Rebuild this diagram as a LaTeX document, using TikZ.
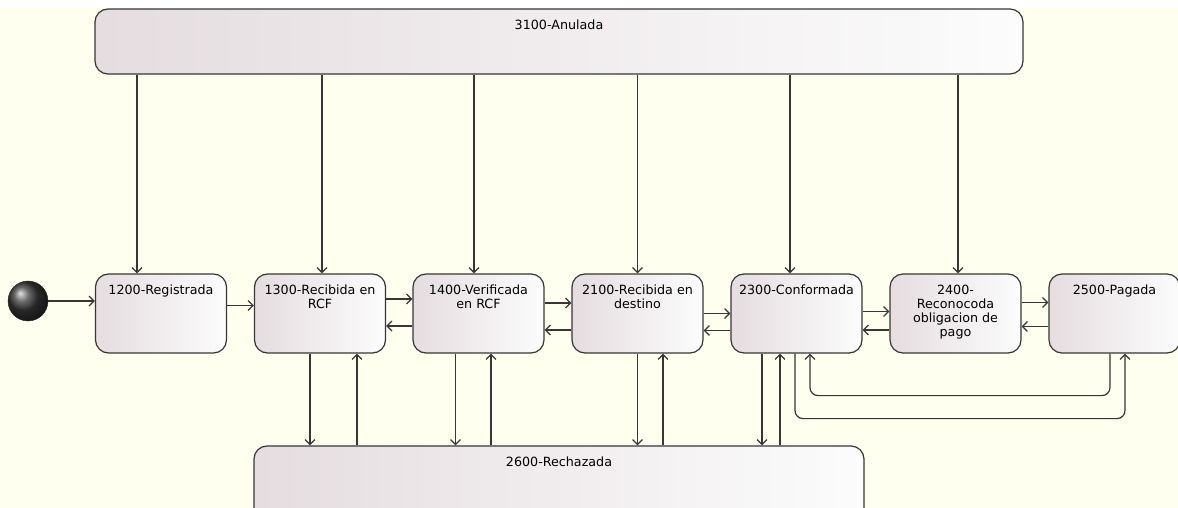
\documentclass[tikz,border=0pt]{standalone}
\usepackage{fontspec}
\setmainfont{DejaVu Sans}
\usetikzlibrary{arrows.meta, positioning}
\definecolor{bgyellow}{RGB}{255,255,240}
\definecolor{edge}{RGB}{55,55,55}
\definecolor{boxleft}{RGB}{229,221,224}
\definecolor{boxright}{RGB}{252,252,252}

\begin{document}
\begin{tikzpicture}[x=1pt, y=-1pt, >={Straight Barb[length=5pt,width=10pt]},
  state/.style={rectangle, rounded corners=13pt, draw=edge, line width=1.2pt,
    left color=boxleft, right color=boxright,
    minimum width=131pt, minimum height=79pt, inner sep=0pt},
  lbl/.style={anchor=north, align=center, inner ysep=11pt,
    font=\fontsize{12.7}{14.3}\selectfont},
  arr/.style={->, draw=edge, line width=1.2pt}]
  \useasboundingbox (0,0) rectangle (1178,508);
  \fill [bgyellow] (0,8) rectangle (1178,508);

  % states
  \node [circle, minimum size=40pt, inner sep=0pt, draw=black!85, shading=ball, ball color=black!78] (init) at (28,301) {};
  \node [state, minimum width=928pt, minimum height=65pt, label={[lbl]north:3100-Anulada}] (anul) at (559,41.5) {};
  \node [state, label={[lbl]north:1200-Registrada}] (s1200) at (161,313.5) {};
  \node [state, label={[lbl]north:1300-Recibida en\\RCF}] (s1300) at (320,313.5) {};
  \node [state, label={[lbl]north:1400-Verificada\\en RCF}] (s1400) at (478.5,313.5) {};
  \node [state, label={[lbl]north:2100-Recibida en\\destino}] (s2100) at (637.5,313.5) {};
  \node [state, label={[lbl]north:2300-Conformada}] (s2300) at (796.5,313.5) {};
  \node [state, label={[lbl]north:2400-\\Reconocoda\\obligacion de\\pago}] (s2400) at (955.5,313.5) {};
  \node [state, label={[lbl]north:2500-Pagada}] (s2500) at (1114.5,313.5) {};
  \node [state, minimum width=610pt, minimum height=80pt, label={[lbl]north:2600-Rechazada}] (rech) at (559,486) {};

  % from 3100-Anulada
  \draw [arr] ([xshift=-24pt]s1200.north |- anul.south) -- ([xshift=-24pt]s1200.north);
  \draw [arr] ([xshift=2pt]s1300.north |- anul.south) -- ([xshift=2pt]s1300.north);
  \draw [arr] ([xshift=-4.5pt]s1400.north |- anul.south) -- ([xshift=-4.5pt]s1400.north);
  \draw [arr] (s2100.north |- anul.south) -- (s2100.north);
  \draw [arr] ([xshift=-6.5pt]s2300.north |- anul.south) -- ([xshift=-6.5pt]s2300.north);
  \draw [arr] ([xshift=2.5pt]s2400.north |- anul.south) -- ([xshift=2.5pt]s2400.north);

  % forward and back
  \draw [arr] (init) -- (init -| s1200.west);
  \draw [arr] ([yshift=8pt]s1200.east) -- ([yshift=8pt]s1300.west);
  \draw [arr] ([yshift=14.5pt]s1300.east) -- ([yshift=14.5pt]s1400.west);
  \draw [arr] ([yshift=-12.5pt]s1400.west) -- ([yshift=-12.5pt]s1300.east);
  \draw [arr] ([yshift=10.5pt]s1400.east) -- ([yshift=10.5pt]s2100.west);
  \draw [arr] ([yshift=-16.5pt]s2100.west) -- ([yshift=-16.5pt]s1400.east);
  \draw [arr] (s2100.east) -- (s2300.west);
  \draw [arr] ([yshift=-17pt]s2300.west) -- ([yshift=-17pt]s2100.east);
  \draw [arr] ([yshift=2pt]s2300.east) -- ([yshift=2pt]s2400.west);
  \draw [arr] ([yshift=-16.5pt]s2400.west) -- ([yshift=-16.5pt]s2300.east);
  \draw [arr] ([yshift=11pt]s2400.east) -- ([yshift=11pt]s2500.west);
  \draw [arr] ([yshift=-13pt]s2500.west) -- ([yshift=-13pt]s2400.east);

  % to and from 2600-Rechazada
  \draw [arr] ([xshift=-10pt]s1300.south) -- ([xshift=-10pt]s1300.south |- rech.north);
  \draw [arr] ([xshift=37pt]s1300.south |- rech.north) -- ([xshift=37pt]s1300.south);
  \draw [arr] ([xshift=-23pt]s1400.south) -- ([xshift=-23pt]s1400.south |- rech.north);
  \draw [arr] ([xshift=12.5pt]s1400.south |- rech.north) -- ([xshift=12.5pt]s1400.south);
  \draw [arr] (s2100.south) -- (s2100.south |- rech.north);
  \draw [arr] ([xshift=25.5pt]s2100.south |- rech.north) -- ([xshift=25.5pt]s2100.south);
  \draw [arr] ([xshift=-34.5pt]s2300.south) -- ([xshift=-34.5pt]s2300.south |- rech.north);
  \draw [arr] ([xshift=-16.5pt]s2300.south |- rech.north) -- ([xshift=-16.5pt]s2300.south);

  % between 2300 and 2500
  \draw [arr, rounded corners=8pt] ([xshift=-4.5pt]s2500.south) -- ++(0,42) -| ([xshift=13.5pt]s2300.south);
  \draw [arr, rounded corners=8pt] ([xshift=-1.5pt]s2300.south) -- ++(0,65) -| ([xshift=10.5pt]s2500.south);
\end{tikzpicture}
\end{document}
